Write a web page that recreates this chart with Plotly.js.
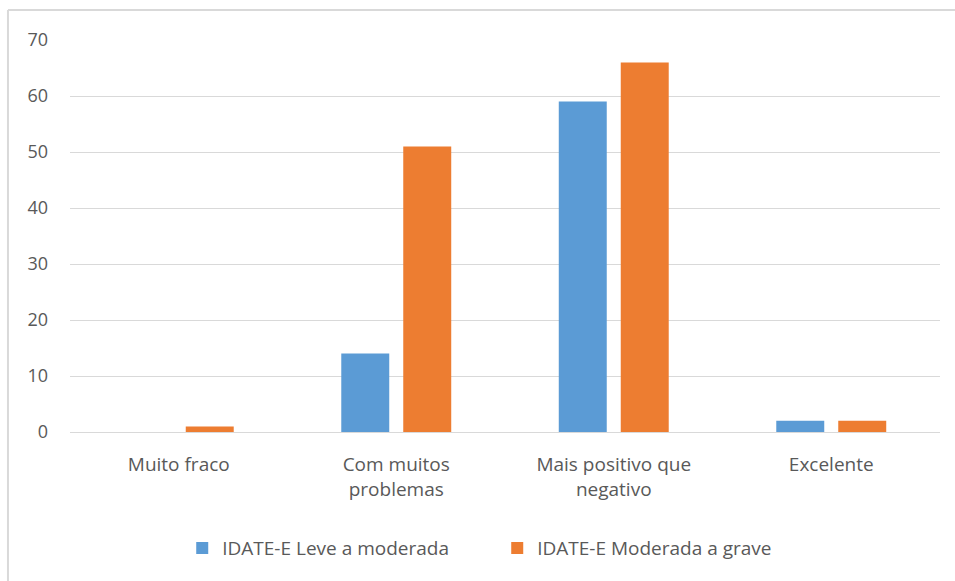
<!DOCTYPE html>
<html>
<head>
<meta charset="utf-8">
<script src="https://cdn.plot.ly/plotly-3.0.1.min.js"></script>
<style>html,body{margin:0;padding:0;background:#fff;}#chart{width:955px;height:581px;}</style>
</head>
<body>
<div id="chart"></div>
<script>
const categories = ["Muito fraco", "Com muitos<br>problemas", "Mais positivo que<br>negativo", "Excelente"];
const seriesNames = ["IDATE-E Leve a moderada", "IDATE-E Moderada a grave"];
const leveModerada = [0, 14, 59, 2];
const moderadaGrave = [1, 51, 66, 2];
const tickValues = [0, 10, 20, 30, 40, 50, 60, 70];

const textColor = "#595959";
const traces = [
  {type: "bar", name: seriesNames[0], x: categories, y: leveModerada, marker: {color: "#5B9BD5"}},
  {type: "bar", name: seriesNames[1], x: categories, y: moderadaGrave, marker: {color: "#ED7D31"}}
];

const layout = {
  width: 955, height: 581,
  margin: {l: 70, r: 15, t: 40, b: 149},
  paper_bgcolor: "#ffffff", plot_bgcolor: "#ffffff",
  font: {family: "'Open Sans', 'Noto Sans', sans-serif", size: 19, color: textColor},
  barmode: "group",
  bargap: 0.43,
  bargroupgap: 0.226,
  showlegend: true,
  legend: {orientation: "h", x: 0.129, xanchor: "left", y: -0.296, yanchor: "middle",
           font: {size: 19, color: textColor}, itemwidth: 30, entrywidth: 270, entrywidthmode: "pixels",
           traceorder: "normal"},
  xaxis: {type: "category", showgrid: false, zeroline: false, showline: false,
          ticks: "", tickfont: {size: 19, color: textColor}, ticklabelstandoff: 19},
  yaxis: {range: [0, 70], tickvals: tickValues, showgrid: true, gridcolor: "#d9d9d9", gridwidth: 1,
          zeroline: true, zerolinecolor: "#d9d9d9", zerolinewidth: 1, showline: false,
          ticks: "", tickfont: {size: 18, color: textColor}, ticklabelstandoff: 21},
  shapes: [
    {type: "line", xref: "paper", yref: "paper", x0: -0.0713, x1: 1.02, y0: 1.0765, y1: 1.0765,
     line: {color: "#d9d9d9", width: 2}},
    {type: "line", xref: "paper", yref: "paper", x0: -0.0713, x1: -0.0713, y0: 1.0765, y1: -0.39,
     line: {color: "#d9d9d9", width: 2}}
  ]
};

Plotly.newPlot("chart", traces, layout, {displayModeBar: false, staticPlot: true});
</script>
</body>
</html>
